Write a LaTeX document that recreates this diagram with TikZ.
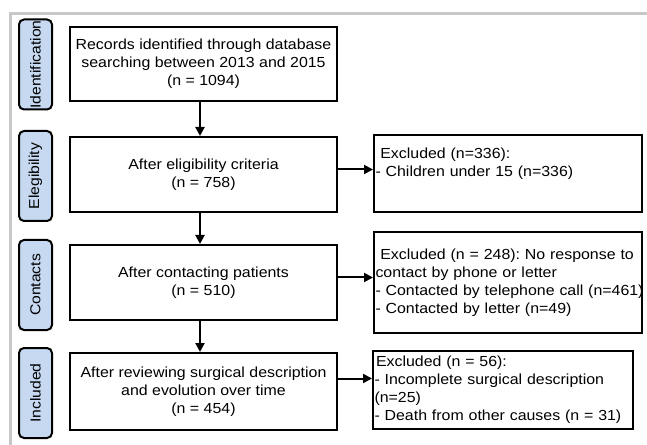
\documentclass[tikz,border=0pt]{standalone}
\usepackage{fontspec}
\setmainfont[FakeStretch=1.09]{Liberation Sans}
\usetikzlibrary{arrows.meta}
\definecolor{sidefill}{HTML}{C6D9F1}
\definecolor{framegray}{HTML}{C8C8C8}
\begin{document}
\frenchspacing
\begin{tikzpicture}[x=1bp,y=-1bp,
  font=\fontsize{14.6bp}{18bp}\selectfont,
  mainbox/.style={draw, line width=2bp, minimum width=267bp, align=center, inner sep=0pt},
  sidebox/.style={draw, line width=2bp, rounded corners=5bp, fill=sidefill,
    minimum width=90bp, minimum height=33bp, rotate=90, inner sep=0pt,
    font=\fontsize{14.4bp}{16bp}\selectfont},
  exclbox/.style={draw, line width=2bp, align=left, inner xsep=1.5bp, inner ysep=0pt},
  arr/.style={line width=2bp, -{Triangle[length=9bp,width=9bp]}}]
\useasboundingbox (0,0) rectangle (647,445);
\draw[framegray, line width=3bp] (10,445) -- (10,14) -- (647,14);

% side labels
\node[sidebox] (s1) at (35.5,64.5) {Identification};
\node[sidebox] (s2) at (35.5,176) {Elegibility};
\node[sidebox] (s3) at (35.5,285) {Contacts};
\node[sidebox] (s4) at (35.5,393) {Included};

% main boxes
\node[mainbox, minimum height=74bp] (b1) at (203.5,64)
  {Records identified through database\\searching between 2013 and 2015\\(n = 1094)};
\node[mainbox, minimum height=75bp] (b2) at (203.5,174.5)
  {After eligibility criteria\\(n = 758)};
\node[mainbox, minimum height=75bp] (b3) at (203.5,282.5)
  {After contacting patients\\(n = 510)};
\node[mainbox, minimum height=77bp] (b4) at (203.5,391.5)
  {After reviewing surgical description\\and evolution over time\\(n = 454)};

% exclusion boxes
\node[exclbox, text width=265bp, minimum height=77bp] (r1) at (508,173.5)
  {\mbox{\ Excluded (n=336):}\\\mbox{- Children under 15 (n=336)}\\\strut};
\node[exclbox, text width=265bp, minimum height=101bp] (r2) at (508,282.5)
  {\mbox{\ Excluded (n = 248): No response to}\\\mbox{contact by phone or letter}\\\mbox{- Contacted by telephone call (n=461)}\\\mbox{- Contacted by letter (n=49)}};
\node[exclbox, text width=257bp, minimum height=78bp] (r3) at (503,390)
  {\mbox{\hspace{1.5bp}Excluded (n = 56):}\\\mbox{- Incomplete surgical description}\\\mbox{(n=25)}\\\mbox{- Death from other causes (n = 31)}};

% arrows
\draw[arr] ([xshift=-3.5bp]b1.south) -- ([xshift=-3.5bp]b2.north);
\draw[arr] ([xshift=-3.5bp]b2.south) -- ([xshift=-3.5bp]b3.north);
\draw[arr] ([xshift=-3.5bp]b3.south) -- ([xshift=-3.5bp]b4.north);
\draw[arr] ([yshift=5bp]b2.east) -- ([yshift=5bp]b2.east -| r1.west);
\draw[arr] ([yshift=5bp]b3.east) -- ([yshift=5bp]b3.east -| r2.west);
\draw[arr] ([yshift=13bp]b4.east) -- ([yshift=13bp]b4.east -| r3.west);
\end{tikzpicture}
\end{document}
